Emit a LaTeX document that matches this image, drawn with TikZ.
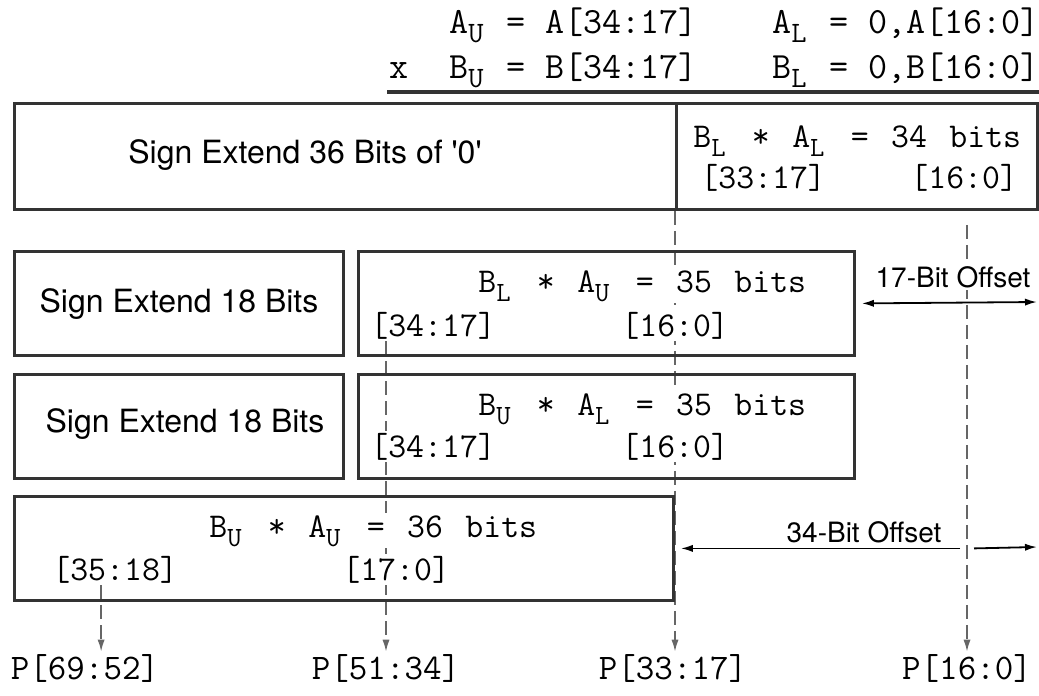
\documentclass[tikz,border=0pt]{standalone}
\usepackage{fontspec}
\usepackage{graphicx}
\setsansfont{TeX Gyre Heros}
\usetikzlibrary{arrows.meta,backgrounds}
\newcommand{\lo}[1]{\makebox[0.525em][l]{\raisebox{-0.6ex}{\scalebox{0.8}{#1}}}}
\newcommand{\widesp}{\spaceskip 11.2pt\relax}

\begin{document}
\begin{tikzpicture}[x=0.5pt,y=-0.5pt,
    >={Latex[length=6pt,width=3.6pt]},
    blk/.style={draw=black!80,line width=1.4pt,anchor=north west,inner sep=0pt},
    tt/.style={font={\ttfamily\fontsize{17.4}{19}\selectfont\widesp},anchor=base west,inner sep=1pt,fill=white},
    hdr/.style={tt,font={\ttfamily\fontsize{18.5}{20}\selectfont}},
    pbits/.style={tt,anchor=base,font={\ttfamily\fontsize{18}{20}\selectfont}},
    sf/.style={font={\sffamily\fontsize{16}{18}\selectfont},anchor=base,inner sep=1pt,fill=white},
    offlbl/.style={sf,font={\sffamily\fontsize{14}{16}\selectfont}},
    guide/.style={draw=black!60,line width=0.8pt,dash pattern=on 7pt off 3pt,->},
    offset/.style={line width=0.9pt}]
\useasboundingbox (0,0) rectangle (1039,696);

% operands
\node[hdr] (au) at (447,33) {A\lo{U} = A[34:17]};
\node[hdr] (al) at (770,33) {A\lo{L} = 0,A[16:0]};
\node[hdr] (times) at (387,78) {x};
\node[hdr] (bu) at (447,78) {B\lo{U} = B[34:17]};
\node[hdr] (bl) at (770,78) {B\lo{L} = 0,B[16:0]};
\draw[line width=2pt,black!80] (387,92) -- (1039,92);

% partial products
\node[blk,minimum width=331pt,minimum height=53pt] (se36) at (13,102) {};
\node[blk,minimum width=180.5pt,minimum height=53pt] (ll) at (675,102) {};
\node[blk,minimum width=164.5pt,minimum height=52pt] (se1) at (13,250) {};
\node[blk,minimum width=248pt,minimum height=52pt] (lu) at (357,250) {};
\node[blk,minimum width=164.5pt,minimum height=52pt] (se2) at (13,373) {};
\node[blk,minimum width=248pt,minimum height=52pt] (ul) at (357,373) {};
\node[blk,minimum width=329.5pt,minimum height=52pt] (uu) at (13,495) {};

\node[sf] (se36t) at (305,163) {Sign Extend 36 Bits of \textquotesingle0\textquotesingle};
\node[sf] (se1t) at (179,312) {Sign Extend 18 Bits};
\node[sf] (se2t) at (185,432) {Sign Extend 18 Bits};

\node[tt,fill=none,inner sep=0pt] (llt) at (693,147) {B\lo{L} * A\lo{L} = 34 bits};
\node[tt,fill=none,inner sep=0pt] (llh) at (700,188) {[33:17]};
\node[tt,fill=none,inner sep=0pt] (lll) at (910,188) {[16:0]};
\node[tt] (lut) at (476,292) {B\lo{L} * A\lo{U} = 35 bits};
\node[tt] (luh) at (368,336) {[34:17]};
\node[tt] (lul) at (619,336) {[16:0]};
\node[tt] (ult) at (476,415) {B\lo{U} * A\lo{L} = 35 bits};
\node[tt] (ulh) at (368,457) {[34:17]};
\node[tt] (ull) at (619,457) {[16:0]};
\node[tt] (uut) at (207,537) {B\lo{U} * A\lo{U} = 36 bits};
\node[tt] (uuh) at (50,580) {[35:18]};
\node[tt] (uul) at (340,580) {[17:0]};

% product bits
\node[pbits] (p1) at (85,679) {P[69:52]};
\node[pbits] (p2) at (386,679) {P[51:34]};
\node[pbits] (p3) at (673,679) {P[33:17]};
\node[pbits] (p4) at (967,679) {P[16:0]};

\coordinate (t35) at ([xshift=-7pt]uuh.south);
\begin{scope}[on background layer]
\draw[guide] (ll.south west) -- (ll.south west |- p3.north);
\draw[guide,shorten <=7pt] (p4 |- ll.south) -- (p4.north);
\draw[guide] (p2 |- luh.south) -- (p2.north);
\draw[guide] (t35) -- (t35 |- p1.north);
\end{scope}

% offsets
\node[offlbl] (off17) at (953,287) {17-Bit Offset};
\coordinate (o17) at (1037,302);
\draw[offset,<->] ([xshift=3pt]lu.east) -- (o17);
\node[offlbl] (off34) at (864,542) {34-Bit Offset};
\coordinate (o34) at (1037,547);
\coordinate (g34) at (p4 |- uu.east);
\draw[offset,->] ([xshift=-3.5pt]g34) -- ([xshift=3pt]uu.east);
\draw[offset,->] ([xshift=3.5pt]g34) -- (o34);
\end{tikzpicture}
\end{document}
